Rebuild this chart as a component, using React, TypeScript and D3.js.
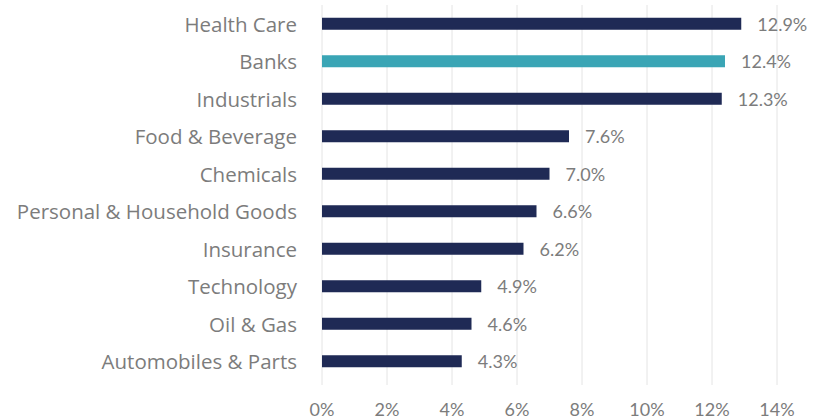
import React from "react";
import * as d3 from "d3";

const categories = [
  "Health Care",
  "Banks",
  "Industrials",
  "Food & Beverage",
  "Chemicals",
  "Personal & Household Goods",
  "Insurance",
  "Technology",
  "Oil & Gas",
  "Automobiles & Parts",
];
const values = [12.9, 12.4, 12.3, 7.6, 7.0, 6.6, 6.2, 4.9, 4.6, 4.3];
const highlighted = ["Banks"];
const ticks = [0, 2, 4, 6, 8, 10, 12, 14];

const W = 818;
const H = 419;

export default function App() {
  const x = d3.scaleLinear().domain([0, 14]).range([322, 777]);
  const y = d3
    .scaleBand<string>()
    .domain(categories)
    .range([5, 380])
    .paddingInner(0.68)
    .paddingOuter(0.34);
  const font = "Lato, 'Open Sans', sans-serif";
  return (
    <svg
      width={W}
      height={H}
      style={{ position: "absolute", left: 0, top: 0, background: "#fff" }}
    >
      {ticks.map((t) => (
        <line
          key={"g" + t}
          x1={x(t)}
          x2={x(t)}
          y1={5}
          y2={385}
          stroke="#e4e4e4"
          strokeWidth={1}
        />
      ))}
      {categories.map((c, i) => (
        <g key={c}>
          <rect
            x={x(0)}
            y={y(c)!}
            width={x(values[i]) - x(0)}
            height={y.bandwidth()}
            fill={highlighted.includes(c) ? "#3aa5b5" : "#1f2a55"}
          />
          <text
            x={297}
            y={y(c)! + y.bandwidth() / 2}
            textAnchor="end"
            dominantBaseline="central"
            fontFamily="'Open Sans', sans-serif"
            fontSize={20.5}
            fill="#7c7c7c"
          >
            {c}
          </text>
          <text
            x={x(values[i]) + 16}
            y={y(c)! + y.bandwidth() / 2}
            textAnchor="start"
            dominantBaseline="central"
            fontFamily={font}
            fontSize={18}
            fill="#7c7c7c"
          >
            {values[i].toFixed(1) + "%"}
          </text>
        </g>
      ))}
      {ticks.map((t) => (
        <text
          key={"t" + t}
          x={x(t)}
          y={409}
          textAnchor="middle"
          dominantBaseline="central"
          fontFamily={font}
          fontSize={18}
          fill="#7c7c7c"
        >
          {t + "%"}
        </text>
      ))}
    </svg>
  );
}
